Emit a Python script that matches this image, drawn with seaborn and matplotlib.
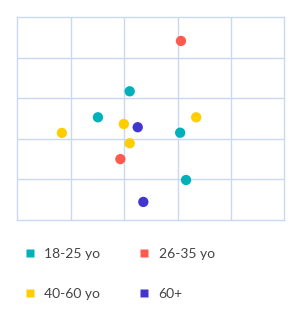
import matplotlib
matplotlib.use("Agg")
import matplotlib.pyplot as plt
import seaborn as sns
import pandas as pd
from matplotlib.lines import Line2D

groups = ["18-25 yo", "26-35 yo", "40-60 yo", "60+"]
colors = ["#00B1BA", "#FF5A4E", "#FFCE00", "#4335CF"]

x_1825 = [42.1, 30.2, 61.0, 63.2]
y_1825 = [63.4, 50.6, 43.0, 19.7]
x_2635 = [61.3, 38.6]
y_2635 = [88.2, 30.0]
x_4060 = [16.7, 39.9, 67.0, 42.1]
y_4060 = [42.9, 47.3, 50.6, 37.8]
x_60 = [45.1, 47.2]
y_60 = [45.7, 8.9]

xs = [x_1825, x_2635, x_4060, x_60]
ys = [y_1825, y_2635, y_4060, y_60]
rows = []
for g, xx, yy in zip(groups, xs, ys):
    for a, b in zip(xx, yy):
        rows.append({"x": a, "y": b, "group": g})
df = pd.DataFrame(rows)

sns.set_style("white")
plt.rcParams["font.family"] = ["Lato", "DejaVu Sans"]

fig = plt.figure(figsize=(2.99, 3.18), dpi=100)
ax = fig.add_axes([17.3 / 299, 1 - 220 / 318, 267 / 299, 203 / 318])
sns.scatterplot(data=df, x="x", y="y", hue="group", hue_order=groups,
                palette=colors, s=55, edgecolor="none", linewidth=0,
                legend=False, ax=ax, zorder=3)
ax.set_xlim(0, 100)
ax.set_ylim(0, 100)
ax.set_xticks([20, 40, 60, 80])
ax.set_yticks([20, 40, 60, 80])
ax.set_xticklabels([])
ax.set_yticklabels([])
ax.tick_params(length=0)
ax.set_xlabel("")
ax.set_ylabel("")
ax.grid(True, color="#C9D8F7", linewidth=1.0)
for sp in ax.spines.values():
    sp.set_color("#C9D8F7")
    sp.set_linewidth(1.0)

handles = {g: Line2D([0], [0], marker="s", color="none", markerfacecolor=c,
                     markeredgecolor="none", markersize=5.5, label=g)
           for g, c in zip(groups, colors)}
order = ["18-25 yo", "40-60 yo", "26-35 yo", "60+"]
leg = fig.legend(handles=[handles[g] for g in order], ncol=2, loc="upper left",
                 bbox_to_anchor=(24 / 299, 1 - 248 / 318), frameon=False,
                 fontsize=10, labelspacing=2.0, columnspacing=2.75,
                 handlelength=0.8, handletextpad=0.65, borderpad=0,
                 borderaxespad=0, labelcolor="#444444")

fig.savefig("out.png", dpi=100)
